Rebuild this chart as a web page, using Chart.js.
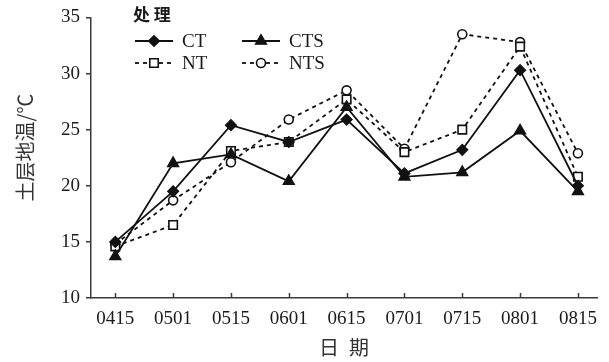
<!DOCTYPE html>
<html>
<head>
<meta charset="utf-8">
<script src="https://cdn.jsdelivr.net/npm/chart.js@4"></script>
<style>
  html, body { margin: 0; padding: 0; background: #fff; }
  #wrap { width: 609px; height: 362px; position: relative; }
</style>
</head>
<body>
<div id="wrap"><canvas id="soilChart"></canvas></div>
<script>
// 日期 (类别)
const dates = ['0415', '0501', '0515', '0601', '0615', '0701', '0715', '0801', '0815'];

// 各处理的土层地温 (°C)
const ct  = [15.0, 19.5, 25.4, 23.9, 25.9, 21.1, 23.2, 30.3, 20.0];
const cts = [13.7, 22.0, 22.8, 20.4, 27.0, 20.8, 21.2, 24.9, 19.5];
const nt  = [14.6, 16.5, 23.1, 23.9, 27.7, 23.0, 25.0, 32.4, 20.8];
const nts = [14.8, 18.7, 22.1, 25.9, 28.5, 23.3, 33.5, 32.8, 22.9];

const yTicks = [10, 15, 20, 25, 30, 35];

const serif = "'Liberation Serif', 'Times New Roman', serif";
const cjk = "'Noto Sans CJK SC', sans-serif";
const ink = '#1a1a1a';
const axisColor = '#3a3a3a';

function pts(arr) {
    return arr.map((v, i) => ({ x: i, y: v }));
}

// 图例 (两列) 和 x 轴向内的刻度
const extras = {
    id: 'extras',
    afterDraw(chart) {
        const ctx = chart.ctx;
        const xs = chart.scales.x;
        const area = chart.chartArea;
        ctx.save();
        ctx.strokeStyle = axisColor;
        ctx.lineWidth = 1.5;
        dates.forEach((d, i) => {
            const px = Math.round(xs.getPixelForValue(i)) + 0.5;
            ctx.beginPath();
            ctx.moveTo(px, area.bottom);
            ctx.lineTo(px, area.bottom - 5);
            ctx.stroke();
        });

        // 图例标题
        ctx.fillStyle = ink;
        ctx.font = "bold 17px " + cjk;
        ctx.textBaseline = 'middle';
        ctx.textAlign = 'left';
        ctx.fillText('处 理', 133, 15);

        const slots = [
            { x: 135, y: 41 }, { x: 242, y: 41 },
            { x: 135, y: 63 }, { x: 242, y: 63 }
        ];
        chart.data.datasets.forEach((ds, i) => {
            const s = slots[i];
            ctx.save();
            ctx.strokeStyle = ds.borderColor;
            ctx.lineWidth = ds.borderWidth;
            ctx.setLineDash(ds.borderDash || []);
            ctx.beginPath();
            ctx.moveTo(s.x, s.y);
            ctx.lineTo(s.x + 38, s.y);
            ctx.stroke();
            ctx.setLineDash([]);
            ctx.fillStyle = ds.pointBackgroundColor;
            ctx.strokeStyle = ds.pointBorderColor;
            ctx.lineWidth = ds.pointBorderWidth;
            Chart.helpers.drawPoint(ctx, {
                pointStyle: ds.pointStyle,
                radius: ds.pointRadius,
                borderWidth: ds.pointBorderWidth,
                rotation: 0
            }, s.x + 19, s.y);
            ctx.restore();
            ctx.fillStyle = ink;
            ctx.font = "19px " + serif;
            ctx.textBaseline = 'middle';
            ctx.fillText(ds.label, s.x + 47, s.y + 1);
        });
        ctx.restore();
    }
};

const solid = { borderColor: '#111', borderWidth: 1.8, pointBorderColor: '#111', pointBorderWidth: 1.2, pointBackgroundColor: '#111' };
const dashed = { borderColor: '#111', borderWidth: 1.8, borderDash: [4, 4], pointBorderColor: '#111', pointBorderWidth: 1.6, pointBackgroundColor: '#fff' };

new Chart(document.getElementById('soilChart').getContext('2d'), {
    type: 'line',
    data: {
        datasets: [
            Object.assign({ label: 'CT', data: pts(ct), pointStyle: 'rectRot', pointRadius: 5.5 }, solid),
            Object.assign({ label: 'CTS', data: pts(cts), pointStyle: 'triangle', pointRadius: 6.5 }, solid),
            Object.assign({ label: 'NT', data: pts(nt), pointStyle: 'rect', pointRadius: 6 }, dashed),
            Object.assign({ label: 'NTS', data: pts(nts), pointStyle: 'circle', pointRadius: 4.5 }, dashed)
        ]
    },
    options: {
        responsive: true,
        maintainAspectRatio: false,
        animation: false,
        layout: { padding: { top: 13, right: 12, left: 0, bottom: 0 } },
        plugins: {
            legend: { display: false },
            tooltip: { enabled: false }
        },
        elements: { line: { tension: 0, fill: false } },
        scales: {
            x: {
                type: 'linear',
                min: -0.42,
                max: 8.33,
                afterBuildTicks: s => { s.ticks = dates.map((d, i) => ({ value: i })); },
                afterFit: s => { s.height = 64; },
                grid: { display: true, drawOnChartArea: false, drawTicks: false, color: axisColor },
                border: { display: true, color: axisColor, width: 1.5 },
                ticks: {
                    padding: 10,
                    color: ink,
                    font: { family: serif, size: 19 },
                    maxRotation: 0,
                    autoSkip: false,
                    callback: v => dates[v]
                },
                title: {
                    display: true,
                    text: '日\u2002期',
                    color: '#333',
                    font: { family: cjk, size: 20 },
                    padding: { top: 0, bottom: 3 }
                }
            },
            y: {
                min: 10,
                max: 35,
                afterBuildTicks: s => { s.ticks = yTicks.map(v => ({ value: v })); },
                afterFit: s => { s.width = 91; },
                grid: { display: true, drawOnChartArea: false, drawTicks: true, tickLength: 5, color: axisColor, lineWidth: 1.5 },
                border: { display: true, color: axisColor, width: 1.5 },
                ticks: {
                    padding: 6,
                    color: ink,
                    font: { family: serif, size: 19 }
                },
                title: {
                    display: true,
                    text: '\u3000土层地温/℃',
                    color: '#333',
                    font: { family: cjk, size: 20 },
                    padding: { top: 13, bottom: 0 }
                }
            }
        }
    },
    plugins: [extras]
});
</script>
</body>
</html>
